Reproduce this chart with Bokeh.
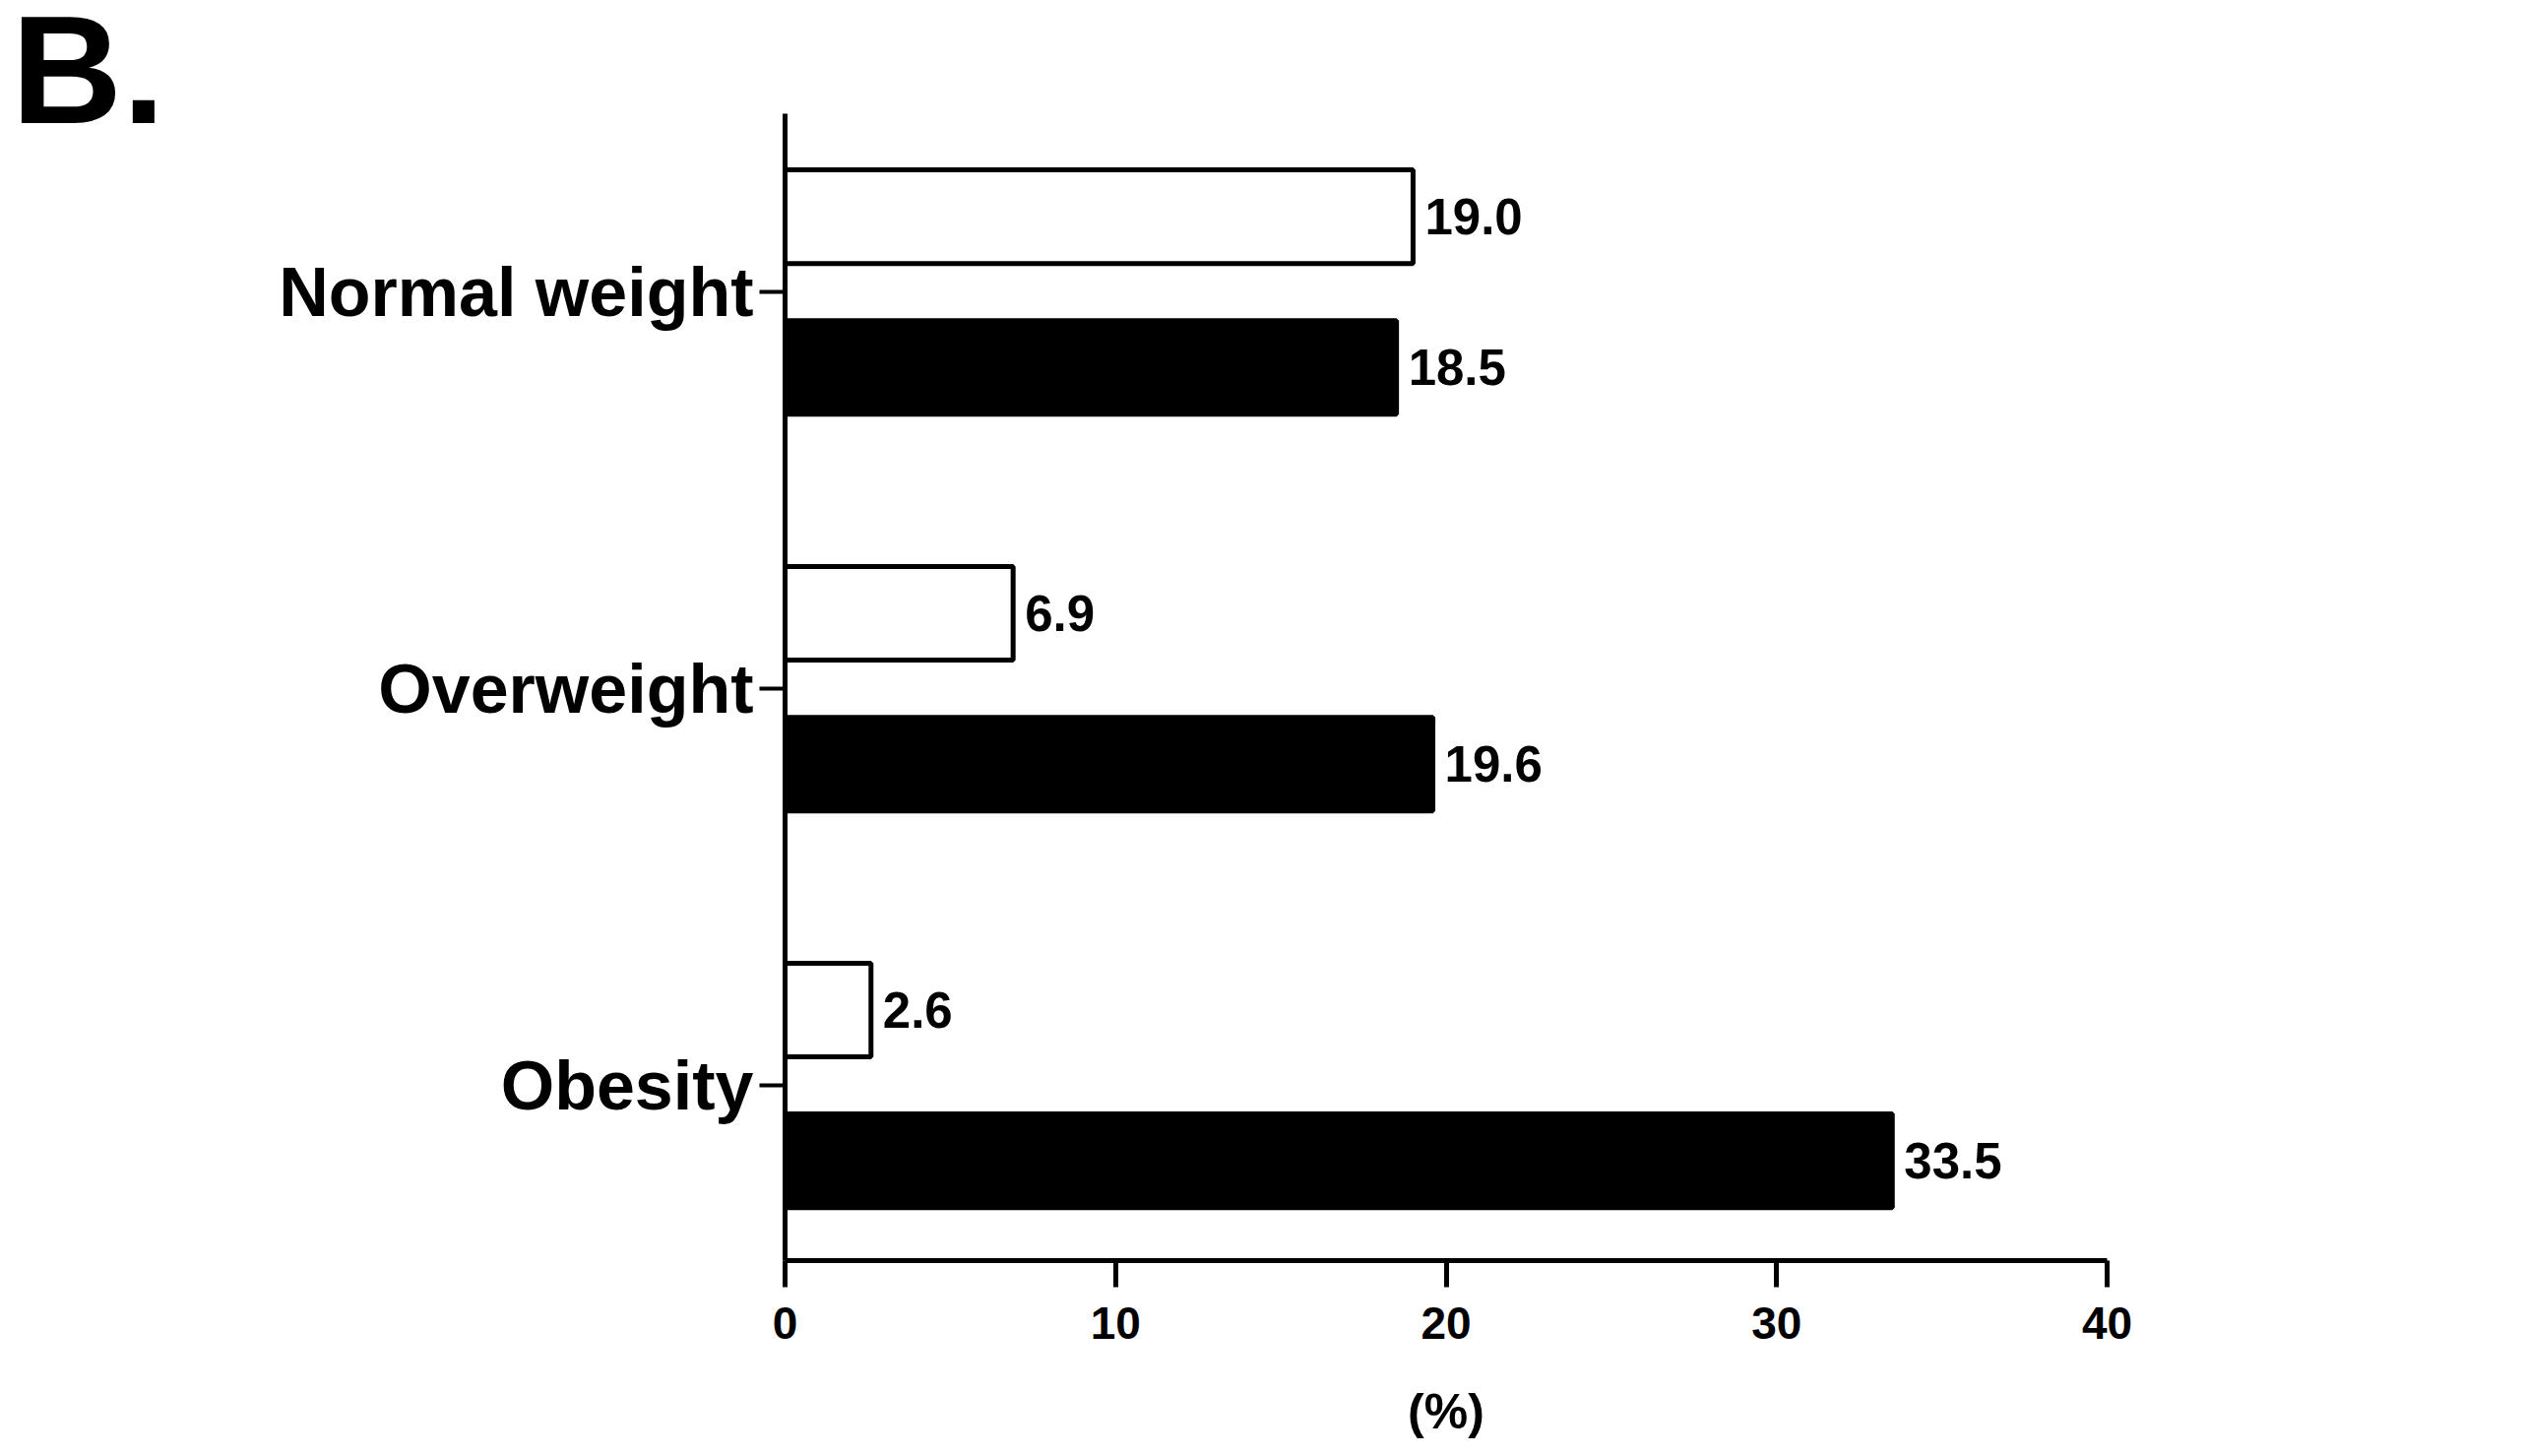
from bokeh.plotting import figure
from bokeh.layouts import row
from bokeh.models import ColumnDataSource, FixedTicker, Range1d
from bokeh.embed import file_html
from bokeh.resources import INLINE
from bokeh.core.properties import value

categories = ["Normal weight", "Overweight", "Obesity"]
cat_pos = [3, 2, 1]
series_white = [19.0, 6.9, 2.6]
series_black = [18.5, 19.6, 33.5]
x_ticks = [0, 10, 20, 30, 40]
x_label = "(%)"
panel_label = "B."

FONT = "Liberation Sans"
H = 1479
LW = 270
MW = 2540 - LW
FRAME_L, FRAME_R, FRAME_B = 797, 2140, 1280
OFF = 0.19
BH = 0.236
Y_LO, Y_HI = 0.5585, 3.4495          # extent of the drawn y axis
Y_TOP = 3.7349                       # range end at the top edge of the canvas

# --- strip holding the panel letter ---
q = figure(width=LW, height=H, output_backend="svg", toolbar_location=None,
           title=None,
           x_range=Range1d(0, LW), y_range=Range1d(H - FRAME_B, H),
           x_axis_location=None, y_axis_location=None, min_border=0)
q.outline_line_color = None
q.background_fill_color = "white"
q.border_fill_color = "white"
q.xgrid.visible = False
q.ygrid.visible = False
q.text(x=[11], y=[H - 70], text=[panel_label], text_baseline="alphabetic",
       text_align="left", text_font=value(FONT), text_font_style="bold",
       text_font_size="156px", text_color="black")

# --- main chart ---
p = figure(width=MW, height=H, output_backend="svg", toolbar_location=None,
           title=None,
           x_range=Range1d(0, 40), y_range=Range1d(Y_LO, Y_TOP),
           min_border_left=FRAME_L - LW, min_border_right=MW - (FRAME_R - LW),
           min_border_top=0, min_border_bottom=H - FRAME_B)
p.outline_line_color = None
p.xgrid.visible = False
p.ygrid.visible = False
p.background_fill_color = "white"
p.border_fill_color = "white"

white_src = ColumnDataSource(dict(
    y=[c + OFF for c in cat_pos], v=series_white,
    t=[f"{v:.1f}" for v in series_white]))
black_src = ColumnDataSource(dict(
    y=[c - OFF for c in cat_pos], v=series_black,
    t=[f"{v:.1f}" for v in series_black]))

p.hbar(y="y", left=0, right="v", height=BH, source=white_src,
       fill_color="white", line_color="black", line_width=5)
p.hbar(y="y", left=0, right="v", height=BH, source=black_src,
       fill_color="black", line_color="black", line_width=5)

for src in (white_src, black_src):
    p.text(x="v", y="y", text="t", source=src, x_offset=12,
           text_baseline="middle", text_align="left",
           text_font=value(FONT), text_font_style="bold",
           text_font_size="51px", text_color="black")

xa = p.xaxis[0]
xa.ticker = FixedTicker(ticks=x_ticks)
xa.axis_label = x_label
xa.axis_label_text_font = FONT
xa.axis_label_text_font_style = "bold"
xa.axis_label_text_font_size = "50px"
xa.axis_label_text_color = "black"
xa.axis_label_standoff = 43
xa.major_label_text_font = FONT
xa.major_label_text_font_style = "bold"
xa.major_label_text_font_size = "46px"
xa.major_label_text_color = "black"
xa.major_label_standoff = 20
xa.axis_line_width = 5
xa.axis_line_color = "black"
xa.major_tick_line_width = 5
xa.major_tick_line_color = "black"
xa.major_tick_out = 27
xa.major_tick_in = 0
xa.minor_tick_line_color = None

ya = p.yaxis[0]
ya.bounds = (Y_LO, Y_HI)
ya.ticker = FixedTicker(ticks=cat_pos)
ya.major_label_overrides = {c: n for c, n in zip(cat_pos, categories)}
ya.major_label_text_font = FONT
ya.major_label_text_font_style = "bold"
ya.major_label_text_font_size = "70px"
ya.major_label_text_color = "black"
ya.major_label_standoff = 6
ya.axis_line_width = 5
ya.axis_line_color = "black"
ya.major_tick_line_width = 4
ya.major_tick_line_color = "black"
ya.major_tick_out = 26
ya.major_tick_in = 0
ya.minor_tick_line_color = None

layout = row(q, p, spacing=0)
open("out.html", "w").write(file_html(layout, INLINE))
